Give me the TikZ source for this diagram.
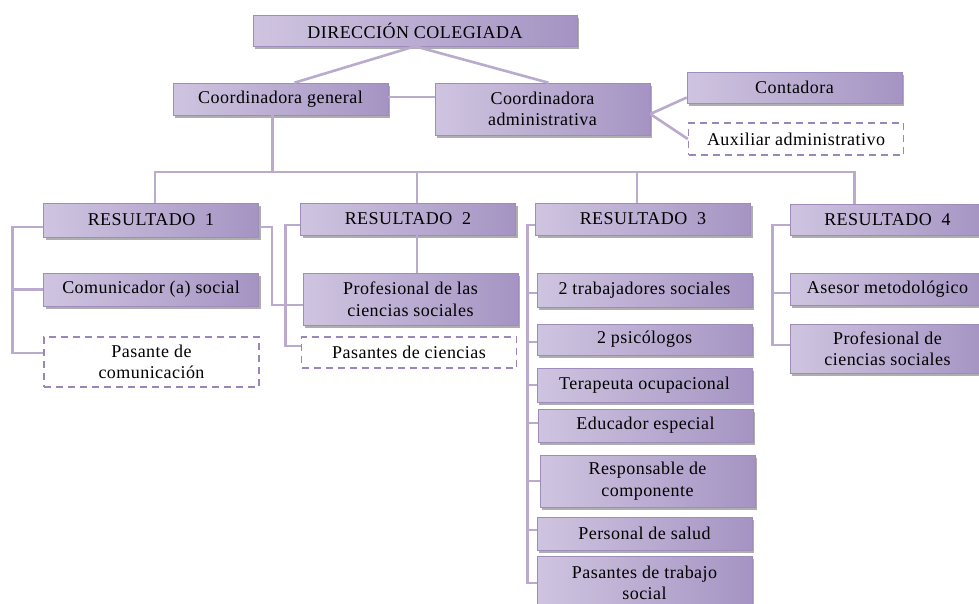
\documentclass[tikz,border=0pt]{standalone}
\usepackage{fontspec}
\setmainfont[LetterSpace=2.5]{Liberation Serif}
\usepackage{tikz}
\usetikzlibrary{shapes.geometric, positioning, calc, shadows}
\usepackage{xcolor}

\definecolor{boxleft}{HTML}{CFC4E0}
\definecolor{boxmid}{HTML}{EEEAF4}
\definecolor{boxright}{HTML}{A594C3}
\definecolor{boxedge}{HTML}{9E8DBB}
\definecolor{linkcol}{HTML}{B9AACE}
\definecolor{dashcol}{HTML}{9A87BA}

\begin{document}
\begin{tikzpicture}[x=1pt, y=-1pt,
    font=\fontsize{18}{21.5}\selectfont,
    cargo/.style={draw=boxedge, line width=0.6pt, left color=boxleft, middle color=boxmid, right color=boxright,
      drop shadow={shadow xshift=2pt, shadow yshift=-2.5pt, fill=black!45, opacity=0.7},
      align=center, inner sep=2pt, minimum width=215pt, minimum height=32pt},
    apoyo/.style={draw=dashcol, dashed, dash pattern=on 7pt off 5pt, line width=1.4pt, fill=white,
      align=center, inner sep=2pt, minimum width=215pt, minimum height=32pt},
    enlace/.style={draw=linkcol, line width=2.6pt}]

      \clip (0,0) rectangle (979,603);
      \useasboundingbox (0,0) rectangle (979,603);

      % direccion y coordinaciones
      \node[cargo, minimum width=324pt, minimum height=31pt] (dir) at (415, 30.5) {DIRECCIÓN COLEGIADA};
      \node[cargo] (cgen) at (280.5, 99) {Coordinadora general};
      \node[cargo, minimum height=52pt] (cadm) at (542.5, 109) {Coordinadora\\administrativa};
      \node[cargo, minimum height=31pt] (cont) at (794.5, 87.5) {Contadora};
      \node[apoyo] (aux) at (796, 139) {Auxiliar administrativo};

      % resultados
      \node[cargo, minimum height=34pt] (r1) at (151, 220) {RESULTADO\ \ 1};
      \node[cargo] (r2) at (408, 219) {RESULTADO\ \ 2};
      \node[cargo] (r3) at (643, 219) {RESULTADO\ \ 3};
      \node[cargo, minimum width=195pt, minimum height=31pt] (r4) at (887.5, 219.5) {RESULTADO\ \ 4};

      \node[cargo, minimum height=33pt] (com) at (151, 289.5) {Comunicador (a) social};
      \node[apoyo, minimum height=50pt] (pcom) at (151.5, 362) {Pasante de\\comunicación};

      \node[cargo, minimum height=52pt] (prof) at (410.5, 299) {Profesional de las\\ciencias sociales};
      \node[apoyo, minimum height=31pt] (pcie) at (409, 352.5) {Pasantes de ciencias};

      \node[cargo, minimum height=34pt] (t1) at (644.5, 290) {2 trabajadores sociales};
      \node[cargo, minimum height=31pt] (t2) at (644.5, 339.5) {2 psicólogos};
      \node[cargo, minimum height=34pt] (t3) at (644.5, 385) {Terapeuta ocupacional};
      \node[cargo, minimum height=33pt] (t4) at (645.5, 425.5) {Educador especial};
      \node[cargo, minimum height=52pt] (t5) at (647.5, 481) {Responsable de\\componente};
      \node[cargo, minimum height=33pt] (t6) at (644.5, 533.5) {Personal de salud};
      \node[cargo, minimum height=54pt] (t7) at (644.5, 583) {Pasantes de trabajo\\social};

      \node[cargo, minimum width=195pt] (ase) at (887.5, 289) {Asesor metodológico};
      \node[cargo, minimum width=195pt, minimum height=49pt] (pcs) at (887.5, 348.5) {Profesional de\\ciencias sociales};

      % enlaces de arriba
      \draw[enlace] (dir.south) -- ([xshift=14pt]cgen.north);
      \draw[enlace] (dir.south) -- ([xshift=6pt]cadm.north);
      \draw[enlace] ([yshift=2pt]cgen.east) -- ([yshift=2pt]cgen.east -| cadm.west);
      \draw[enlace] ([yshift=-5pt]cadm.east) -- ([yshift=-10pt]cont.west);
      \draw[enlace] ([yshift=-5pt]cadm.east) -- (aux.west);

      \coordinate (bus) at (0, 172);
      \draw[enlace] ([xshift=-8pt]cgen.south) -- ([xshift=-8pt]cgen.south |- bus);
      \draw[enlace] ([xshift=4pt]r1.north) -- ([xshift=4pt]r1.north |- bus) -| ([xshift=-33pt]r4.north);
      \draw[enlace] ([xshift=9pt]r2.north) -- ([xshift=9pt]r2.north |- bus);
      \draw[enlace] ([xshift=-6pt]r3.north) -- ([xshift=-6pt]r3.north |- bus);

      % resultado 1
      \draw[enlace] ([yshift=-7pt]r1.west) -- ++(-31,0) |- ([yshift=9pt]pcom.west);
      \draw[enlace] (com.west) -- ++(-31,0);
      \draw[enlace] ([yshift=-7pt]r1.east) -- ++(13,0) |- ([yshift=-6pt]prof.west);

      % resultado 2
      \draw[enlace] ([yshift=-6pt]r2.west) -- ++(-15,0) |- ([yshift=6.5pt]pcie.west);
      \draw[enlace] ([xshift=9pt]r2.south) -- ([xshift=9pt]r2.south |- prof.north);

      % resultado 3
      \coordinate (r3x) at ([xshift=-8pt]r3.west);
      \draw[enlace] ([yshift=-6pt]r3.west) -| (t7.west -| r3x) -- (t7.west);
      \foreach \n/\dy in {t1/-3, t2/-2.5, t3/0, t4/2.5, t5/0, t6/3.5}
        \draw[enlace] ([yshift=\dy pt]\n.west) -- ([yshift=\dy pt]\n.west -| r3x);

      % resultado 4
      \draw[enlace] ([yshift=-5.5pt]r4.west) -- ++(-17,0) |- ([yshift=3.5pt]pcs.west);
      \draw[enlace] ([yshift=-4pt]ase.west) -- ++(-17,0);

    \end{tikzpicture}
\end{document}
